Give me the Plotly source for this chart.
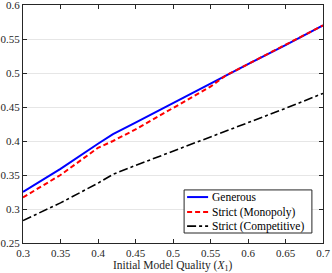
import plotly.graph_objects as go

x_vals = [0.30, 0.35, 0.40, 0.42, 0.45, 0.50, 0.55, 0.57, 0.60, 0.65, 0.70]
generous = [0.325, 0.359, 0.396, 0.410, 0.427, 0.456, 0.484, 0.496, 0.513, 0.541, 0.570]
strict_mono = [0.317, 0.350, 0.390, 0.400, 0.417, 0.448, 0.480, 0.496, 0.513, 0.541, 0.570]
strict_comp = [0.283, 0.309, 0.338, 0.351, 0.364, 0.385, 0.406, 0.414, 0.427, 0.448, 0.470]

series_names = ["Generous", "Strict (Monopoly)", "Strict (Competitive)"]
series_colors = ["#0000ff", "#ff0000", "#000000"]
series_dash = ["solid", "5px,3px", "dashdot"]
series_width = [2, 2, 1.6]

x_ticks = [0.3, 0.35, 0.4, 0.45, 0.5, 0.55, 0.6, 0.65, 0.7]
x_tick_labels = ["0.3", "0.35", "0.4", "0.45", "0.5", "0.55", "0.6", "0.65", "0.7"]
y_ticks = [0.25, 0.3, 0.35, 0.4, 0.45, 0.5, 0.55, 0.6]
y_tick_labels = ["0.25", "0.3", "0.35", "0.4", "0.45", "0.5", "0.55", "0.6"]

FONT = "'Liberation Serif', 'Times New Roman', serif"
AX = "#262626"

fig = go.Figure()
for yv, nm, c, d, w in zip([generous, strict_mono, strict_comp], series_names,
                           series_colors, series_dash, series_width):
    fig.add_trace(go.Scatter(x=x_vals, y=yv, mode="lines", name=nm,
                             line=dict(color=c, width=w, dash=d), showlegend=False))

axis_common = dict(showline=True, linecolor=AX, linewidth=1, mirror="ticks",
                   ticks="inside", ticklen=4, tickcolor=AX, zeroline=False,
                   automargin=False, ticklabeloverflow="allow",
                   tickfont=dict(family=FONT, size=11, color=AX))

fig.update_xaxes(range=[0.3, 0.7], tickvals=x_ticks, ticktext=x_tick_labels,
                 showgrid=False, **axis_common)
fig.update_yaxes(range=[0.25, 0.6], tickvals=y_ticks, ticktext=y_tick_labels,
                 showgrid=True, gridcolor="#e6e6e6", gridwidth=1, **axis_common)

# x-axis title
fig.add_annotation(x=0.5, y=-0.098, xref="paper", yref="paper", showarrow=False,
                   xanchor="center", yanchor="middle",
                   text="Initial Model Quality (<i>X</i><sub>1</sub>)",
                   font=dict(family=FONT, size=11.5, color=AX))

# custom legend box
fig.add_shape(type="rect", xref="paper", yref="paper", x0=0.537, x1=0.963,
              y0=0.042, y1=0.223, line=dict(color=AX, width=1), fillcolor="white",
              layer="above")
row_y = [0.193, 0.130, 0.071]
for ry, nm, c, d, w in zip(row_y, series_names, series_colors, series_dash, series_width):
    fig.add_shape(type="line", xref="paper", yref="paper", x0=0.547, x1=0.617,
                  y0=ry, y1=ry, line=dict(color=c, width=w, dash=d), layer="above")
    fig.add_annotation(x=0.623, y=ry, xref="paper", yref="paper", showarrow=False,
                       xanchor="left", yanchor="middle", text=nm,
                       font=dict(family=FONT, size=11.5, color="#000000"))

fig.update_layout(
    width=332, height=273,
    margin=dict(l=23, r=9, t=5, b=30),
    paper_bgcolor="white", plot_bgcolor="white",
    showlegend=False,
)

fig.write_html("out.html", config={"displayModeBar": False},
               post_script="document.body.style.margin='0';document.body.style.padding='0';")
